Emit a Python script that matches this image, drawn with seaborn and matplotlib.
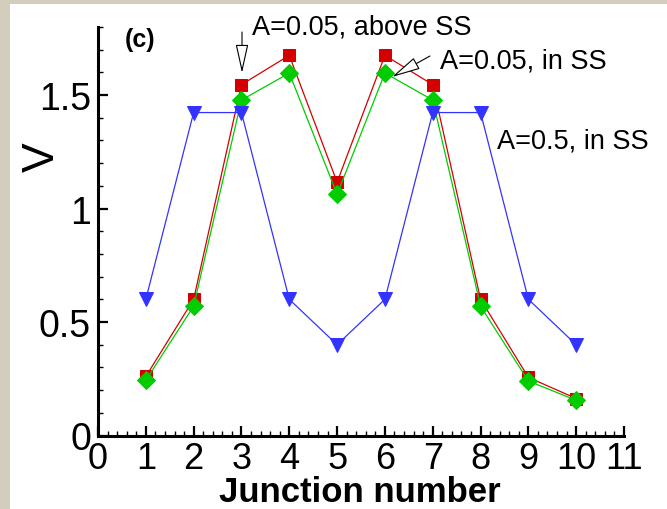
import matplotlib
matplotlib.use("Agg")
import matplotlib.pyplot as plt
from matplotlib import font_manager
from matplotlib.patches import Rectangle
from matplotlib.ticker import MultipleLocator
import seaborn as sns
import numpy as np

# ---- data ----
junction = [1, 2, 3, 4, 5, 6, 7, 8, 9, 10]
v_above_ss = [0.26, 0.60, 1.546, 1.675, 1.116, 1.675, 1.546, 0.60, 0.256, 0.163]
v_in_ss_005 = [0.243, 0.570, 1.478, 1.597, 1.063, 1.597, 1.478, 0.570, 0.240, 0.155]
v_in_ss_05 = [0.60, 1.423, 1.423, 0.60, 0.40, 0.60, 1.423, 1.423, 0.60, 0.40]

x_ticks = list(range(0, 12))
y_ticks = [0, 0.5, 1, 1.5]
y_tick_labels = ["0", "0.5", "1", "1.5"]

sns.set_style("ticks")
plt.rcParams["font.family"] = ["Liberation Sans", "DejaVu Sans"]
plt.rcParams["text.color"] = "black"
plt.rcParams["axes.labelcolor"] = "black"
plt.rcParams["xtick.color"] = "black"
plt.rcParams["ytick.color"] = "black"

W, H = 667, 510
fig = plt.figure(figsize=(W / 100, H / 100), dpi=100, facecolor="#D3CDBD")
fig.patches.append(Rectangle((10 / W, 0), 1 - 10 / W, (H - 5) / H, transform=fig.transFigure,
                             facecolor="white", edgecolor="none", zorder=-10))

x0, x1 = 98, 624
yb, yt = 436.5, 28
ax = fig.add_axes([x0 / W, (H - yb) / H, (x1 - x0) / W, (yb - yt) / H])
ax.set_facecolor("none")
ax.set_zorder(1)

sns.lineplot(x=junction, y=v_above_ss, ax=ax, color="#D40000", marker="s", markersize=9,
             markeredgecolor="#D40000", linewidth=0.9, zorder=3)
sns.lineplot(x=junction, y=v_in_ss_005, ax=ax, color="#00CC00", marker="D", markersize=9,
             markeredgecolor="#00CC00", linewidth=0.9, zorder=4)
sns.lineplot(x=junction, y=v_in_ss_05, ax=ax, color="#3333FF", marker="v", markersize=10,
             markeredgecolor="#3333FF", linewidth=0.9, zorder=5)

ax.set_xlim(0, 11)
ax.set_ylim(0, 1.8)
ax.set_xticks(x_ticks)
ax.set_xticklabels([str(t) for t in x_ticks], fontsize=26)
ax.set_yticks(y_ticks)
ax.set_yticklabels(y_tick_labels, fontsize=27)
ax.xaxis.set_minor_locator(MultipleLocator(0.2))
ax.yaxis.set_minor_locator(MultipleLocator(0.1))
ax.tick_params(which="major", direction="in", length=7, width=1.6, colors="black")
ax.tick_params(which="minor", direction="in", length=3.5, width=1.0, colors="black")
ax.tick_params(axis="y", which="major", pad=5)
ax.tick_params(axis="x", which="major", pad=4)

for s in ["top", "right"]:
    ax.spines[s].set_visible(False)
for s in ["left", "bottom"]:
    ax.spines[s].set_linewidth(2.2)
    ax.spines[s].set_color("black")

ax.set_xlabel("Junction number", fontsize=25, fontweight="bold")
ax.xaxis.label.set_va("baseline")
ax.xaxis.set_label_coords((360 - x0) / (x1 - x0), (yb - 502) / (yb - yt))
ax.set_ylabel("V", fontsize=32, rotation=90)
ax.yaxis.label.set_va("center")
ax.yaxis.set_label_coords((42 - x0) / (x1 - x0), (yb - 157) / (yb - yt))

def dx(px):
    return (px - x0) / (x1 - x0) * 11

def dy(py):
    return (yb - py) / (yb - yt) * 1.8

ax.text(dx(140), dy(40), "(c)", fontsize=18, fontweight="bold", ha="center", va="center")
ax.text(dx(362), dy(28), "A=0.05, above SS", fontsize=19.5, ha="center", va="center", clip_on=False)
ax.text(dx(523), dy(62), "A=0.05, in SS", fontsize=19.5, ha="center", va="center", clip_on=False)
ax.text(dx(573), dy(142), "A=0.5, in SS", fontsize=19.5, ha="center", va="center", clip_on=False)

arrow_kw = dict(arrowstyle="-|>,head_length=1.8,head_width=0.4", fc="white", ec="black", lw=0.8,
                shrinkA=0, shrinkB=0, mutation_scale=10)
ax.annotate("", xy=(dx(242), dy(74)), xytext=(dx(242), dy(33)), arrowprops=arrow_kw,
            annotation_clip=False)
ax.annotate("", xy=(dx(392), dy(78)), xytext=(dx(430), dy(57)), arrowprops=arrow_kw,
            annotation_clip=False)

fig.savefig("out.png", dpi=100, facecolor=fig.get_facecolor())
